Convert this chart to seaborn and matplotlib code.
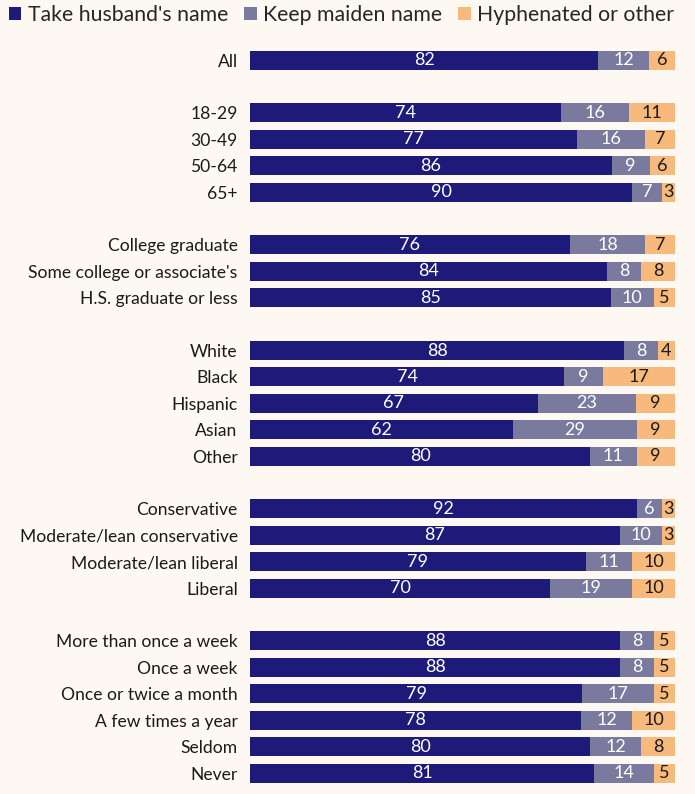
import matplotlib
matplotlib.use("Agg")
import matplotlib.pyplot as plt
from matplotlib.patches import Patch
import seaborn as sns
import pandas as pd

# groups of rows, separated by blank spacer rows
groups = [
    ["All"],
    ["18-29", "30-49", "50-64", "65+"],
    ["College graduate", "Some college or associate's", "H.S. graduate or less"],
    ["White", "Black", "Hispanic", "Asian", "Other"],
    ["Conservative", "Moderate/lean conservative", "Moderate/lean liberal", "Liberal"],
    ["More than once a week", "Once a week", "Once or twice a month",
     "A few times a year", "Seldom", "Never"],
]

take_husband = [82, 74, 77, 86, 90, 76, 84, 85, 88, 74, 67, 62, 80,
                92, 87, 79, 70, 88, 88, 79, 78, 80, 81]
keep_maiden = [12, 16, 16, 9, 7, 18, 8, 10, 8, 9, 23, 29, 11,
               6, 10, 11, 19, 8, 8, 17, 12, 12, 14]
hyphenated = [6, 11, 7, 6, 3, 7, 8, 5, 4, 17, 9, 9, 9,
              3, 3, 10, 10, 5, 5, 5, 10, 8, 5]

series_names = ["Take husband's name", "Keep maiden name", "Hyphenated or other"]
colors = ["#1d1a7a", "#7a799e", "#f8b97c"]
bg = "#fdf8f2"

labels = [lab for g in groups for lab in g]

# category order with blank spacers between groups
order = []
for i, g in enumerate(groups):
    if i > 0:
        order.append(" " * i)
    order.extend(g)

df = pd.DataFrame({"label": labels, "a": take_husband, "b": keep_maiden, "c": hyphenated})
tot = df[["a", "b", "c"]].sum(axis=1)
df["na"] = df["a"] / tot * 100
df["nb"] = df["b"] / tot * 100
df["nc"] = df["c"] / tot * 100
df["cum_a"] = df["na"]
df["cum_b"] = df["na"] + df["nb"]
df["cum_c"] = df["cum_b"] + df["nc"]

sns.set_theme(style="white")
plt.rcParams["font.family"] = ["Lato", "DejaVu Sans"]

fig = plt.figure(figsize=(6.95, 7.94), dpi=100, facecolor=bg)
ax = fig.add_axes([0.36, 0.0098, 0.611, 0.9312], facecolor=bg)

bar_w = 0.72
for col, c in zip(["cum_c", "cum_b", "cum_a"], colors[::-1]):
    sns.barplot(data=df, x=col, y="label", order=order, color=c,
                width=bar_w, saturation=1, linewidth=0, ax=ax, errorbar=None)

pos = {lab: i for i, lab in enumerate(order)}
for _, r in df.iterrows():
    y = pos[r["label"]]
    segs = [(0, r["na"], r["a"], "white"),
            (r["na"], r["nb"], r["b"], "white"),
            (r["na"] + r["nb"], r["nc"], r["c"], "#1a1a1a")]
    for left, w, v, tc in segs:
        ax.text(left + w / 2, y, f"{v:.0f}", ha="center", va="center",
                color=tc, fontsize=13)

ax.set_xlim(0, 100)
ax.set_ylim(len(order) - 0.5, -0.5)
ax.set_xlabel("")
ax.set_ylabel("")
ax.set_xticks([])
ax.tick_params(axis="y", length=0, pad=9, labelsize=12.6, colors="#1a1a1a")
sns.despine(ax=ax, left=True, bottom=True)

handles = [Patch(facecolor=c, edgecolor="none", label=n) for c, n in zip(colors, series_names)]
fig.legend(handles=handles, loc="upper left", bbox_to_anchor=(-0.006, 1.01), ncol=3,
           frameon=False, fontsize=15.3, handlelength=0.6, handleheight=0.6,
           handletextpad=0.3, columnspacing=0.75, borderaxespad=0.2)

fig.savefig("out.png", dpi=100, facecolor=bg)
